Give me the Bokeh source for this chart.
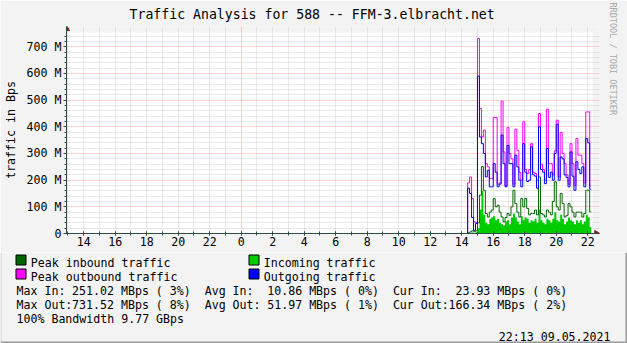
import math
from bokeh.plotting import figure
from bokeh.layouts import column
from bokeh.models import Range1d, FixedTicker, Grid, Title
from bokeh.core.properties import value
from bokeh.embed import file_html
from bokeh.resources import INLINE

# ---------------- data ----------------
title_text = "Traffic Analysis for 588 -- FFM-3.elbracht.net"
y_title = "traffic in Bps"
watermark = "RRDTOOL / TOBI OETIKER"

# time axis in hours relative to midnight of 09.05.2021
graph_start = -11.09      # start of the one-day window (08.05, ~12:55)
graph_end = 22.217        # 22:13 09.05.2021
plot_end = 22.31          # right edge of the white canvas
sample_start = 14.375     # first sample with traffic
sample_step = 0.125       # 7.5 minute samples

# values in Mbps
peak_in = [3, 6, 10, 8, 10, 40, 144, 251.02, 162, 75, 62, 80, 88, 131, 100, 106, 80, 62, 44, 60,
           75, 68, 100, 162, 112, 80, 62, 131, 100, 131, 94, 70, 75, 75, 88, 70, 212, 75, 70, 62,
           88, 80, 70, 120, 194, 100, 88, 150, 112, 62, 68, 112, 100, 80, 62, 80, 80, 80, 62, 75,
           162, 162, 81]
avg_in = [1, 2, 4, 3, 5, 20, 90, 160, 70, 40, 35, 55, 60, 65, 50, 55, 40, 35, 30, 45,
          50, 35, 60, 75, 60, 45, 35, 65, 50, 60, 55, 40, 50, 45, 55, 40, 90, 50, 40, 35,
          55, 50, 40, 55, 80, 50, 45, 70, 55, 35, 45, 60, 50, 45, 35, 50, 40, 50, 35, 45,
          70, 60, 24]
peak_out = [190, 212, 131, 44, 41, 731.52, 469, 362, 388, 262, 250, 206, 206, 435, 435, 185, 190, 496, 306, 180,
            397, 300, 280, 185, 391, 312, 230, 200, 419, 240, 225, 240, 337, 230, 225, 200, 450, 260, 240, 200,
            466, 262, 262, 220, 310, 425, 212, 379, 300, 262, 220, 185, 337, 262, 180, 356, 294, 294, 262, 190,
            456, 456, 178]
avg_out = [170, 150, 60, 12, 38, 590, 362, 337, 300, 212, 237, 175, 175, 262, 230, 175, 185, 369, 262, 175,
           330, 262, 262, 175, 294, 250, 200, 175, 337, 230, 195, 200, 325, 220, 215, 170, 400, 240, 230, 187,
           319, 210, 230, 200, 300, 410, 200, 287, 280, 220, 210, 175, 306, 215, 162, 269, 240, 225, 250, 175,
           356, 340, 166]

tick_hours = [-10, -8, -6, -4, -2, 0, 2, 4, 6, 8, 10, 12, 14, 16, 18, 20, 22]
tick_labels = ["14", "16", "18", "20", "22", "0", "2", "4", "6", "8", "10", "12", "14", "16", "18", "20", "22"]
y_ticks = [0, 100, 200, 300, 400, 500, 600, 700]
y_tick_labels = ["0", "100 M", "200 M", "300 M", "400 M", "500 M", "600 M", "700 M"]
y_plot_top = 753.7

legend_names = ["Peak inbound traffic", "Incoming traffic", "Peak outbound traffic", "Outgoing traffic"]
legend_colors = ["#006600", "#00CC00", "#FF00FF", "#0000FF"]

stats_labels = [["Max In:", "Avg In:", "Cur In:"], ["Max Out:", "Avg Out:", "Cur Out:"]]
stats_values = [["251.02 MBps ( 3%)", "10.86 MBps ( 0%)", "23.93 MBps ( 0%)"],
                ["731.52 MBps ( 8%)", "51.97 MBps ( 1%)", "166.34 MBps ( 2%)"]]
bandwidth_text = "100% Bandwidth 9.77 GBps"
stamp_text = "22:13 09.05.2021"

# ---------------- layout constants ----------------
W = 627
H_MAIN, H_BOT = 252, 91
ML, MR, MT, MB = 66, 23, 26, 19
FW, FH = W - ML - MR, H_MAIN - MT - MB
PX_PER_H = 15.9
PX_PER_M = 0.26667
FONT = "DejaVu Sans Mono"
FS = "11.6px"
CW = 6.97
BG = "#F3F3F3"
AXIS_COLOR = "#2C4D43"
ARROW_COLOR = "#8B1A1A"

x_view_end = graph_start + FW / PX_PER_H
y_view_top = FH / PX_PER_M

p = figure(width=W, height=H_MAIN, output_backend="svg", toolbar_location=None,
           x_range=Range1d(graph_start, x_view_end), y_range=Range1d(0, y_view_top),
           min_border_left=ML, min_border_right=MR, min_border_top=MT, min_border_bottom=MB)
p.frame_align = False
p.background_fill_color = BG
p.border_fill_color = BG
p.outline_line_color = None
p.xgrid.visible = False
p.ygrid.visible = False

# white canvas behind the grid
p.quad(left=[graph_start], right=[plot_end], bottom=[0], top=[y_plot_top],
       fill_color="#FFFFFF", line_color=None, level="image")

hours = list(range(-11, 23))
xgrid = Grid(dimension=0, ticker=FixedTicker(ticks=[0], minor_ticks=[h for h in hours if h != 0]),
             grid_line_color="#F0A0A0", grid_line_dash="1 1", grid_line_width=1,
             minor_grid_line_color="#D0D0D0", minor_grid_line_dash="1 1", minor_grid_line_width=1)
ygrid = Grid(dimension=1, ticker=FixedTicker(ticks=y_ticks[1:], minor_ticks=[v for v in range(20, 750, 20) if v % 100]),
             grid_line_color="#F0A0A0", grid_line_dash="1 1", grid_line_width=1,
             minor_grid_line_color="#D0D0D0", minor_grid_line_dash="1 1", minor_grid_line_width=1)
p.add_layout(xgrid)
p.add_layout(ygrid)

xa = p.xaxis[0]
xa.ticker = FixedTicker(ticks=tick_hours, minor_ticks=hours)
xa.major_label_overrides = {h: l for h, l in zip(tick_hours, tick_labels)}
ya = p.yaxis[0]
ya.ticker = FixedTicker(ticks=y_ticks, minor_ticks=list(range(0, 750, 20)))
ya.major_label_overrides = {v: l for v, l in zip(y_ticks, y_tick_labels)}
ya.axis_label = y_title
ya.axis_label_text_font = FONT
ya.axis_label_text_font_size = FS
ya.axis_label_text_font_style = "normal"
ya.axis_label_text_color = "#000000"
ya.axis_label_standoff = 6
for ax in (xa, ya):
    ax.axis_line_color = AXIS_COLOR
    ax.major_tick_line_color = AXIS_COLOR
    ax.minor_tick_line_color = AXIS_COLOR
    ax.major_label_text_font = FONT
    ax.major_label_text_font_size = FS
    ax.major_label_text_color = "#000000"
xa.major_tick_in = 2
xa.major_tick_out = 2
xa.minor_tick_in = 2
xa.minor_tick_out = 2
xa.major_label_standoff = 1
ya.major_tick_in = 0
ya.major_tick_out = 3
ya.minor_tick_in = 0
ya.minor_tick_out = 2
ya.major_label_standoff = 2

# arrow heads at the ends of the axes
arrow_y = y_view_top - 2.3 / PX_PER_M
arrow_x = x_view_end - 3.0 / PX_PER_H
p.scatter([graph_start], [arrow_y], marker="triangle", size=6, fill_color=ARROW_COLOR, line_color=ARROW_COLOR)
p.scatter([arrow_x], [0], marker="triangle", angle=-math.pi / 2, size=6,
          fill_color=ARROW_COLOR, line_color=ARROW_COLOR)

# series
times = [sample_start + i * sample_step for i in range(len(avg_out))]
xs = [graph_start] + times + [graph_end]

def stepped(vals):
    return [0] + list(vals) + [vals[-1]]

p.varea_step(x=xs, y1=[0] * len(xs), y2=stepped(avg_in), step_mode="after", fill_color=legend_colors[1])
p.step(xs, stepped(peak_in), mode="after", line_color=legend_colors[0], line_width=1)
p.step(xs, stepped(peak_out), mode="after", line_color=legend_colors[2], line_width=1)
p.step(xs, stepped(avg_out), mode="after", line_color=legend_colors[3], line_width=1)

# title and watermark
t = Title(text=title_text, align="left", offset=63, standoff=9,
          text_font=FONT, text_font_size="13.2px", text_font_style="normal", text_color="#000000")
p.add_layout(t, "above")
wm = Title(text=watermark, align="left", offset=-24, standoff=16,
           text_font=FONT, text_font_size="8.5px", text_font_style="normal", text_color="#A8A8A8")
p.add_layout(wm, "right")

# ---------------- legend / statistics strip ----------------
Y0 = H_MAIN
q = figure(width=W, height=H_BOT, output_backend="svg", toolbar_location=None,
           x_range=Range1d(0, W), y_range=Range1d(Y0 + H_BOT, Y0),
           min_border_left=0, min_border_right=0, min_border_top=0, min_border_bottom=0,
           x_axis_location=None, y_axis_location=None)
q.frame_align = False
q.background_fill_color = BG
q.border_fill_color = BG
q.outline_line_color = None
q.grid.visible = False

col_x = [16.0, 249.0]
row_y = [254.5, 268.5]
lx, ly, lt = [], [], []
for k, (name, color) in enumerate(zip(legend_names, legend_colors)):
    r, c = k // 2, k % 2
    q.quad(left=[col_x[c] - 0.5], right=[col_x[c] + 9.5], top=[row_y[r]], bottom=[row_y[r] + 10],
           fill_color=color, line_color="#000000", line_width=1)
    lx.append(col_x[c] + 14.3)
    ly.append(row_y[r] + 8.4)
    lt.append(name)

stat_x0 = 16.0
stat_y = [290.7, 304.7]
for r in range(2):
    for c in range(3):
        lx.append(stat_x0 + c * 27 * CW)
        ly.append(stat_y[r])
        lt.append(stats_labels[r][c])
lx.append(stat_x0)
ly.append(318.7)
lt.append(bandwidth_text)
q.text(x=lx, y=ly, text=lt, text_font=value(FONT), text_font_size=value(FS),
       text_align="left", text_baseline="alphabetic", text_color="#000000")

rx, ry, rt = [], [], []
for r in range(2):
    for c in range(3):
        rx.append(stat_x0 + c * 27 * CW + 25 * CW)
        ry.append(stat_y[r])
        rt.append(stats_values[r][c])
rx.append(610)
ry.append(336.7)
rt.append(stamp_text)
q.text(x=rx, y=ry, text=rt, text_font=value(FONT), text_font_size=value(FS),
       text_align="right", text_baseline="alphabetic", text_color="#000000")

# frame shading along the lower/right edge
q.quad(left=[0], right=[W], top=[Y0 + H_BOT - 2], bottom=[Y0 + H_BOT], fill_color="#999999", line_color=None)
q.quad(left=[W - 2], right=[W], top=[Y0], bottom=[Y0 + H_BOT], fill_color="#999999", line_color=None)
q.quad(left=[0], right=[1], top=[Y0], bottom=[Y0 + H_BOT], fill_color="#CBCBCB", line_color=None)

layout = column(p, q, spacing=0)
open("out.html", "w").write(file_html(layout, INLINE))
